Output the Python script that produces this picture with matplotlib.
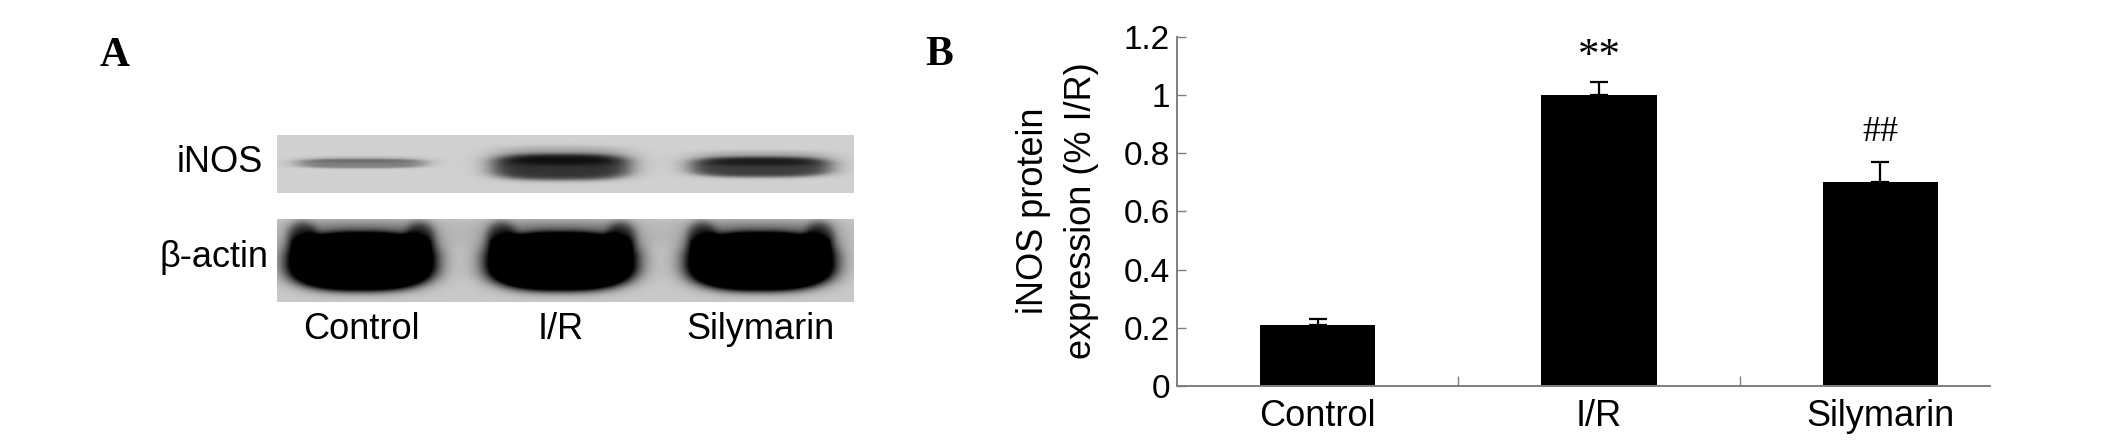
import numpy as np
import matplotlib
matplotlib.use("Agg")
import matplotlib.pyplot as plt
from matplotlib.ticker import FixedLocator, FuncFormatter

# ---------------- data ----------------
groups = ["Control", "I/R", "Silymarin"]
inos_expr = [0.21, 1.00, 0.70]          # iNOS protein expression (% I/R)
inos_err = [0.02, 0.045, 0.07]          # upper error (SEM)
sig_marks = ["", "**", "##"]
y_ticks = [0, 0.2, 0.4, 0.6, 0.8, 1.0, 1.2]

blot_rows = ["iNOS", "β-actin"]
inos_band = [0.32, 0.62, 0.58]          # relative band darkness (blot)
actin_band = [1.0, 1.0, 1.0]

# ---------------- figure ----------------
W, H = 2126, 443
DPI = 100
fig = plt.figure(figsize=(W / DPI, H / DPI), dpi=DPI)
fig.patch.set_facecolor("white")
SANS = ["Liberation Sans", "DejaVu Sans"]
SERIF = ["Liberation Serif", "DejaVu Serif"]
GRAY = "#7f7f7f"


def px_axes(x0, y0, x1, y1):
    """add axes from pixel box (top-left origin)"""
    return fig.add_axes([x0 / W, 1 - y1 / H, (x1 - x0) / W, (y1 - y0) / H])


# panel letters
fig.text(100 / W, 1 - 66 / H, "A", family=SERIF, weight="bold", fontsize=30,
         ha="left", va="baseline")
fig.text(925 / W, 1 - 65 / H, "B", family=SERIF, weight="bold", fontsize=30,
         ha="left", va="baseline")

# ---------------- panel A: western blot ----------------
lanes = np.arange(len(groups))
xlim_blot = (-0.42, 2.465)


def sig(v, s):
    return 1.0 / (1.0 + np.exp(np.clip(v / s, -60, 60)))


def blob(X, Y, cx, cy, hw, hh, p=3.0, s=0.08):
    r = (np.abs((X - cx) / hw) ** p + np.abs((Y - cy) / hh) ** p) ** (1.0 / p)
    return sig(r - 1.0, s)


def grid():
    nx, ny = 700, 160
    xs = np.linspace(xlim_blot[0], xlim_blot[1], nx)
    ys = np.linspace(0, 1, ny)
    return np.meshgrid(xs, ys)


def inos_image(amps, cys, hhs, hws, bg):
    X, Y = grid()
    img = np.full_like(X, bg)
    for i, a in enumerate(amps):
        img += a * blob(X, Y, lanes[i], cys[i], hws[i], hhs[i], p=3.0, s=0.10)
        # lighter upper smear
        img += 0.25 * a * blob(X, Y, lanes[i], cys[i] + hhs[i] * 0.9,
                               hws[i] * 0.95, hhs[i] * 0.7, p=3.0, s=0.15)
    return np.clip(img, 0, 1)


def actin_image(amps, cy, hh, hws, bg):
    X, Y = grid()
    img = np.full_like(X, bg)
    for i, a in enumerate(amps):
        hw = hws[i]
        img += 1.4 * a * blob(X, Y, lanes[i], cy - 0.02, hw, hh, p=2.6, s=0.09)
        for side in (-1, 1):
            img += 0.45 * a * blob(X, Y, lanes[i] + side * (hw - 0.07),
                                   cy + hh - 0.05, 0.07, 0.17, p=2.0, s=0.2)
        img += 0.30 * a * blob(X, Y, lanes[i], cy + hh,
                               hw * 0.9, 0.14, p=3.0, s=0.25)
    return np.clip(img, 0, 1)


# iNOS strip
ax_i = px_axes(277, 135, 854, 193)
img_i = inos_image(inos_band, [0.50, 0.44, 0.44], [0.08, 0.22, 0.17],
                   [0.32, 0.345, 0.35], bg=0.18)
ax_i.imshow(img_i, cmap="gray_r", vmin=0, vmax=1, origin="lower",
            extent=[xlim_blot[0], xlim_blot[1], 0, 1], aspect="auto",
            interpolation="bilinear")
ax_i.set_xlim(*xlim_blot)
ax_i.set_ylim(0, 1)
ax_i.axis("off")

# beta-actin strip
ax_b = px_axes(277, 219, 854, 302)
img_b = actin_image(actin_band, 0.50, 0.34, [0.365, 0.37, 0.365], bg=0.21)
ax_b.imshow(img_b, cmap="gray_r", vmin=0, vmax=1, origin="lower",
            extent=[xlim_blot[0], xlim_blot[1], 0, 1], aspect="auto",
            interpolation="bilinear")
ax_b.set_xlim(*xlim_blot)
ax_b.set_ylim(0, 1)
for s in ax_b.spines.values():
    s.set_visible(False)
ax_b.set_yticks([])
ax_b.set_xticks(lanes)
ax_b.set_xticklabels(groups, family=SANS, fontsize=26)
ax_b.tick_params(axis="x", length=0, pad=7)

# row labels
fig.text(263 / W, 1 - 172 / H, blot_rows[0], family=SANS, fontsize=26,
         ha="right", va="baseline")
fig.text(269 / W, 1 - 267 / H, blot_rows[1], family=SANS, fontsize=26,
         ha="right", va="baseline")

# ---------------- panel B: bar chart ----------------
ax = px_axes(1177, 36.7, 1990, 386)
x = np.arange(len(groups))
ax.bar(x, inos_expr, width=0.41, color="black", zorder=2)
ax.errorbar(x, inos_expr, yerr=[np.zeros(len(x)), inos_err], fmt="none",
            ecolor="black", elinewidth=1.6, capsize=6.5, capthick=1.6, zorder=1)

ax.set_xlim(-0.5, 2.39)
ax.set_ylim(0, 1.2)
for side in ["top", "right"]:
    ax.spines[side].set_visible(False)
for side in ["left", "bottom"]:
    ax.spines[side].set_color(GRAY)
    ax.spines[side].set_linewidth(1.4)

ax.yaxis.set_major_locator(FixedLocator(y_ticks))
ax.yaxis.set_major_formatter(FuncFormatter(lambda v, p: "%g" % v))
ax.tick_params(axis="y", direction="in", length=6.5, width=1, color=GRAY,
               pad=5, labelsize=24)
for lab in ax.get_yticklabels():
    lab.set_family(SANS)

ax.set_xticks(x)
ax.set_xticklabels(groups, family=SANS, fontsize=26)
ax.tick_params(axis="x", which="major", length=0, pad=9)
ax.xaxis.set_minor_locator(FixedLocator([0.5, 1.5]))
ax.tick_params(axis="x", which="minor", direction="in", length=7, width=1,
               color=GRAY)

for xi, v, e, m in zip(x, inos_expr, inos_err, sig_marks):
    if m == "**":
        ax.text(xi, v + e + 0.085, m, family=SERIF,
                fontsize=31, ha="center", va="center")
    elif m:
        ax.text(xi, v + e + 0.10, m, family=SERIF, fontsize=26,
                ha="center", va="center")

fig.text(1057.5 / W, 1 - 211 / H, "iNOS protein\nexpression (% I/R)",
         family=SANS, fontsize=26, rotation=90, ha="center", va="center",
         multialignment="center", linespacing=1.5)

fig.savefig("out.png", dpi=DPI, facecolor="white")
